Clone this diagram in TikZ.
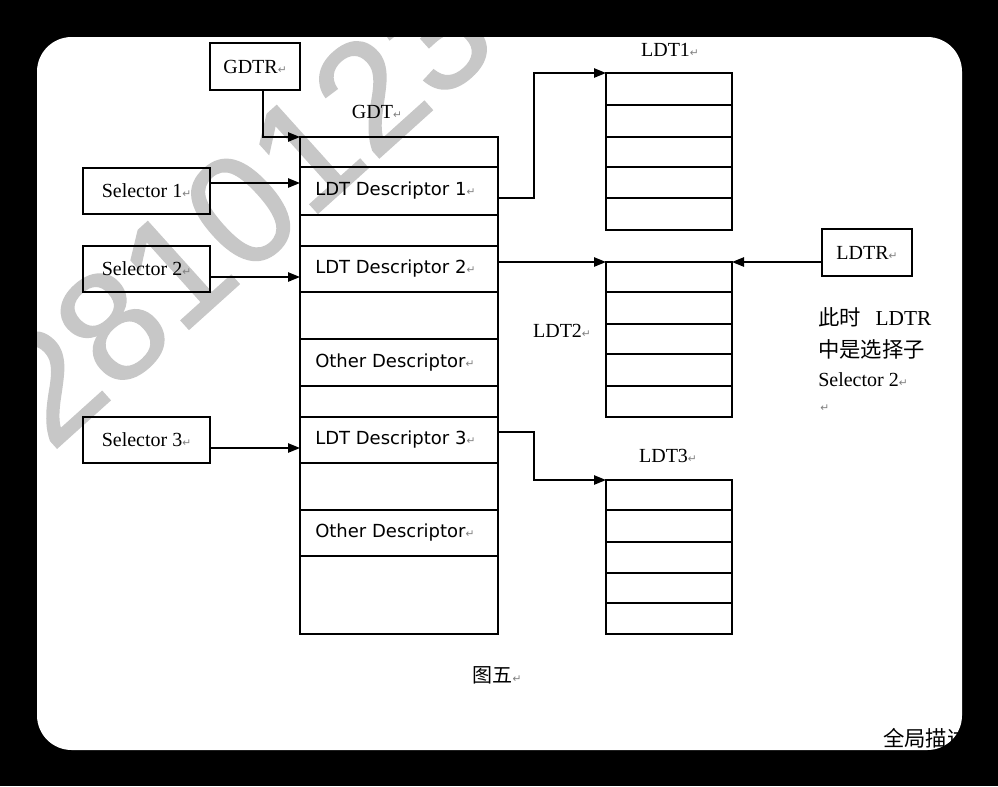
\documentclass[tikz,border=0pt]{standalone}
\usepackage{fontspec}
\setmainfont{Liberation Serif}
\newfontfamily\cjk{Noto Sans CJK SC}
\newfontfamily\dvs{DejaVu Sans}
\newfontfamily\wmfont[FakeBold=1]{Liberation Sans}
\usetikzlibrary{arrows.meta}
\newcommand\retmark{{\dvs\fontsize{8pt}{8pt}\selectfont\color{gray}↵}}
\begin{document}
\begin{tikzpicture}[x=0.75pt,y=-0.75pt,
  cell/.style={draw, line width=1.1pt, inner sep=0pt, outer sep=0pt, anchor=north west},
  box/.style={draw, line width=1.1pt, inner sep=0pt, outer sep=0pt},
  serif/.style={font=\fontsize{15pt}{15pt}\selectfont},
  desc/.style={font=\dvs\fontsize{13.5pt}{13.5pt}\selectfont, anchor=west, inner sep=0pt},
  arr/.style={line width=1.1pt, -{Triangle[length=9pt,width=7pt]}}]
\useasboundingbox (0,0) rectangle (998,786);
\fill[black] (0,0) rectangle (998,786);
\fill[white, rounded corners=26pt] (37,37) rectangle (962,750);
\begin{scope}
  \clip[rounded corners=26pt] (37,37) rectangle (962,750);
  \node[rotate=42, text=black!22, font=\wmfont\fontsize{117pt}{117pt}\selectfont, inner sep=0pt] (wm) at (241,210) {2810123};
  \node[anchor=west, font=\cjk\fontsize{16pt}{16pt}\selectfont, inner sep=0pt] (foot) at (883,738) {全局描述};
\end{scope}
% GDT
\foreach \t/\b [count=\i from 0] in {137/167,167/215,215/246,246/292,292/339,339/386,386/417,417/463,463/510,510/556,556/634}
  \node[cell, minimum width=148.5pt, minimum height={(\b-\t)*0.75pt}] (g\i) at (300,\t) {};
\node[desc] (d1) at ([xshift=11.25pt]g1.west) {LDT Descriptor 1\retmark};
\node[desc] (d2) at ([xshift=11.25pt]g3.west) {LDT Descriptor 2\retmark};
\node[desc] (d3) at ([xshift=11.25pt]g5.west) {Other Descriptor\retmark};
\node[desc] (d4) at ([xshift=11.25pt]g7.west) {LDT Descriptor 3\retmark};
\node[desc] (d5) at ([xshift=11.25pt]g9.west) {Other Descriptor\retmark};
% LDT tables
\foreach \t/\b [count=\i from 0] in {73/105,105/137,137/167,167/198,198/230}
  \node[cell, minimum width=94.5pt, minimum height={(\b-\t)*0.75pt}] (la\i) at (606,\t) {};
\foreach \t/\b [count=\i from 0] in {262/292,292/324,324/354,354/386,386/417}
  \node[cell, minimum width=94.5pt, minimum height={(\b-\t)*0.75pt}] (lb\i) at (606,\t) {};
\foreach \t/\b [count=\i from 0] in {480/510,510/542,542/573,573/603,603/634}
  \node[cell, minimum width=94.5pt, minimum height={(\b-\t)*0.75pt}] (lc\i) at (606,\t) {};
% labels
\node[serif] (gdtlbl) at (377,112) {GDT\retmark};
\node[serif] (ldt1lbl) at (670,50) {LDT1\retmark};
\node[serif] (ldt2lbl) at (562,331) {LDT2\retmark};
\node[serif] (ldt3lbl) at (668,456) {LDT3\retmark};
% boxes
\node[box, serif, minimum width=67.5pt, minimum height=35.25pt] (gdtr) at (255,66.5) {GDTR\retmark};
\node[box, serif, minimum width=95.25pt, minimum height=34.5pt] (s1) at (146.5,191) {Selector 1\retmark};
\node[box, serif, minimum width=95.25pt, minimum height=34.5pt] (s2) at (146.5,269) {Selector 2\retmark};
\node[box, serif, minimum width=95.25pt, minimum height=34.5pt] (s3) at (146.5,440) {Selector 3\retmark};
\node[box, serif, minimum width=67.5pt, minimum height=35.25pt] (ldtr) at (867,252.5) {LDTR\retmark};
% annotation
\node[anchor=west, inner sep=0pt, font=\fontsize{16pt}{16pt}\selectfont] (n1) at (818,317) {{\cjk 此时}\hspace{11pt}LDTR};
\node[anchor=west, inner sep=0pt, font=\cjk\fontsize{16pt}{16pt}\selectfont] (n2) at (818,349) {中是选择子};
\node[anchor=west, inner sep=0pt, serif] (n3) at (818,380) {Selector 2\retmark};
\node[anchor=west, inner sep=0pt] (n4) at (820,408) {\retmark};
\node[font=\cjk\fontsize{15pt}{15pt}\selectfont] (cap) at (497,675) {图五\retmark};
% arrows
\draw[arr] ([xshift=6pt]gdtr.south) |- (g0.north west);
\draw[arr] ([yshift=6pt]s1.east) -- ([yshift=6pt]s1.east -| g1.west);
\draw[arr] ([yshift=-6pt]s2.east) -- ([yshift=-6pt]s2.east -| g3.west);
\draw[arr] ([yshift=-6pt]s3.east) -- ([yshift=-6pt]s3.east -| g7.west);
\draw[arr] ([yshift=-5.25pt]g1.east) -- ++(36,0) |- (la0.north west);
\draw[arr] (g3.east |- lb0.north west) -- (lb0.north west);
\draw[arr] (ldtr.west |- lb0.north east) -- (lb0.north east);
\draw[arr] ([yshift=6pt]g7.east) -- ++(36,0) |- (lc0.north west);
\end{tikzpicture}
\end{document}
